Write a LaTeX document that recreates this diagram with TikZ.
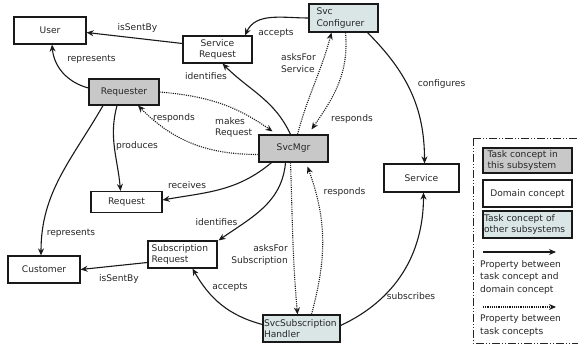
\documentclass[tikz,border=0pt]{standalone}
\usepackage{fontspec}
\setmainfont{DejaVu Sans}
\usetikzlibrary{arrows.meta}
\definecolor{taskgray}{HTML}{C8C8C8}
\definecolor{othercol}{HTML}{DAE6E6}
\definecolor{txt}{HTML}{262626}
\tikzset{
  box/.style={draw=black!90, line width=1.2pt, minimum width=#1, inner sep=1pt, text=txt, align=center},
  box/.default=70pt,
  tbox/.style={box=#1, fill=taskgray},
  tbox/.default=70pt,
  obox/.style={box=#1, fill=othercol},
  obox/.default=70pt,
  lbl/.style={text=txt, inner sep=0pt, align=left},
  rel/.style={line width=1.1pt, black!90, -{Stealth[length=7pt,width=6pt]}},
  drel/.style={rel, dash pattern=on 1.1pt off 1.1pt},
  frame/.style={line width=0.9pt, black!85, dash pattern=on 8pt off 2pt on 1pt off 2pt on 1pt off 2pt}
}
\begin{document}
\begin{tikzpicture}[x=1pt,y=1pt,font=\fontsize{9.1}{11.5}\selectfont]
\useasboundingbox (0,0) rectangle (578,345);
\clip (0,0) rectangle (578,345);

% nodes
\node[box=72pt, minimum height=27pt] (user) at (50,314.5) {User};
\node[box=69pt, minimum height=27pt] (sreq) at (217.5,295.5) {Service\\Request};
\node[obox=69pt, minimum height=28pt, align=left, text width=54pt] (sconf) at (343.5,327) {Svc\\Configurer};
\node[tbox=70pt, minimum height=26pt] (requester) at (124,253) {Requester};
\node[tbox=69pt, minimum height=27pt] (mgr) at (293.5,196.5) {SvcMgr};
\node[box=71pt, minimum height=21pt] (request) at (126.5,143) {Request};
\node[box=75pt, minimum height=28pt] (service) at (421.5,167) {Service};
\node[box=69pt, minimum height=27pt, align=left, text width=62pt] (subreq) at (182.5,90.5) {Subscription\\Request};
\node[box=72pt, minimum height=27pt] (customer) at (44,75.5) {Customer};
\node[obox=77pt, minimum height=27pt, align=left, text width=75pt] (ssh) at (301.5,16.5) {SvcSubscription\\Handler};

% edges
\draw[rel] ([yshift=6]sreq.west) -- ([yshift=-2]user.east);
\draw[rel] ([yshift=4]requester.west) to[out=165,in=-85] ([xshift=2]user.south);
\draw[rel] (sconf.west) to[out=180,in=65] ([xshift=27.5]sreq.north);
\draw[rel] ([xshift=-3]mgr.north) to[out=115,in=-45] ([xshift=5]sreq.south);
\draw[drel] ([xshift=4]mgr.north) to[out=75,in=-105] ([xshift=-12]sconf.south);
\draw[drel] ([xshift=2]sconf.south) to[out=-85,in=55] ([xshift=18,yshift=5]mgr.north);
\draw[rel] ([xshift=24]sconf.south) to[out=-45,in=90] ([xshift=3]service.north);
\draw[drel] (requester.east) to[out=-5,in=145] ([xshift=-21,yshift=3]mgr.north);
\draw[drel] ([yshift=-6]mgr.west) to[out=180,in=-45] ([xshift=14]requester.south);
\draw[rel] ([xshift=-7]requester.south) to[out=-105,in=95] ([xshift=-6]request.north);
\draw[rel] ([xshift=-21]requester.south) to[out=-120,in=90] ([xshift=-3]customer.north);
\draw[rel] ([xshift=-22]mgr.south) to[out=-140,in=10] ([yshift=2]request.east);
\draw[rel] ([xshift=-8]mgr.south) to[out=-95,in=35] ([xshift=1]subreq.north east);
\draw[rel] ([yshift=-8]subreq.west) -- (customer.east);
\draw[rel] ([yshift=4]ssh.west) to[out=165,in=-60] ([xshift=10]subreq.south);
\draw[drel] ([xshift=-3]mgr.south) to[out=-88,in=95] ([xshift=-4]ssh.north);
\draw[drel] ([xshift=10]ssh.north) to[out=75,in=-70] ([xshift=14,yshift=-4]mgr.south);
\draw[rel] ([yshift=3]ssh.east) to[out=25,in=-90] ([xshift=2]service.south);

% labels
\node[lbl] (l1) at (137.5,317) {isSentBy};
\node[lbl] (l2) at (91.5,286) {represents};
\node[lbl] (l3) at (276,312) {accepts};
\node[lbl] (l4) at (206,269) {identifies};
\node[lbl, anchor=west] (l5) at (281,282) {asksFor\\Service};
\node[lbl] (l6) at (352,226) {responds};
\node[lbl] (l7) at (441.5,261) {configures};
\node[lbl, anchor=west] (l8) at (215,217.5) {makes\\Request};
\node[lbl] (l9) at (174,227) {responds};
\node[lbl] (l10) at (137,199) {produces};
\node[lbl] (l11) at (71,112) {represents};
\node[lbl] (l12) at (187,160) {receives};
\node[lbl] (l13) at (216.5,123) {identifies};
\node[lbl] (l14) at (119,66) {isSentBy};
\node[lbl] (l15) at (230,58) {accepts};
\node[lbl, anchor=east, align=right] (l16) at (288,90) {asksFor\\Subscription};
\node[lbl] (l17) at (344.5,153) {responds};
\node[lbl] (l18) at (411,49) {subscribes};

% legend
\draw[frame] (473,207) rectangle (600,2);
\node[tbox=89pt, minimum height=25pt, align=left, text width=80pt] (k1) at (527.5,184.5) {Task concept in\\this subsystem};
\node[box=89pt, minimum height=27pt] (k2) at (527.5,151.5) {Domain concept};
\node[obox=89pt, minimum height=27pt, align=left, text width=87pt] (k3) at (527.5,120.5) {Task concept of\\other subsystems};
\coordinate (a1) at (483,93);
\coordinate (a2) at (556,93);
\draw[rel] (a1) -- (a2);
\node[lbl, anchor=west, font=\fontsize{9.1}{12.5}\selectfont] (t1) at (480,68) {Property between\\task concept and\\domain concept};
\coordinate (b1) at (483,38);
\coordinate (b2) at (556,38);
\draw[drel] (b1) -- (b2);
\node[lbl, anchor=west, font=\fontsize{9.1}{12.5}\selectfont] (t2) at (480,19.5) {Property between\\task concepts};
\end{tikzpicture}
\end{document}
